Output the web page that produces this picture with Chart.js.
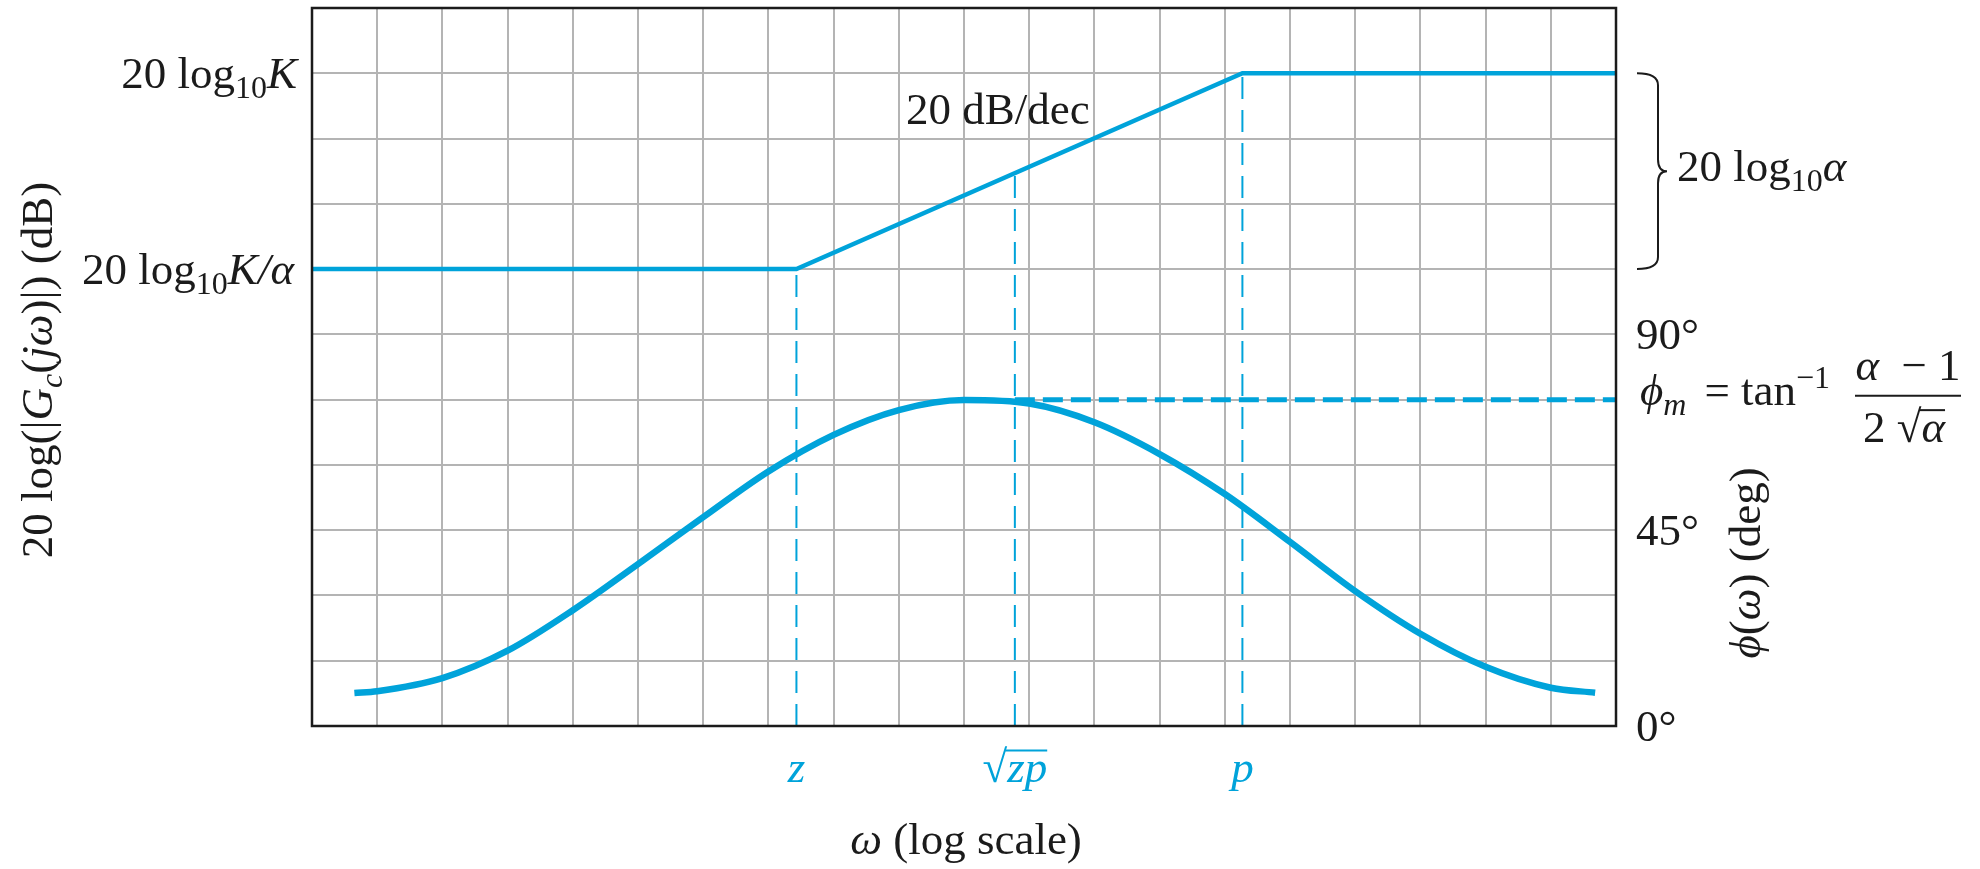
<!DOCTYPE html>
<html>
<head>
<meta charset="utf-8">
<title>Lead compensator Bode diagram</title>
<script src="https://cdn.jsdelivr.net/npm/chart.js@4.4.1/dist/chart.umd.min.js"></script>
<style>
  html, body { margin: 0; padding: 0; background: #fff; }
  #wrap { width: 1980px; height: 869px; }
</style>
</head>
<body>
<div id="wrap"><canvas id="bode" width="1980" height="869"></canvas></div>
<script>
// x axis: log frequency, one unit per grid column
const xMin = 0, xMax = 20;
// left axis in grid rows, right axis in degrees (15 deg per row)
const rowMax = 11;
const phaseMax = 165;

// z, sqrt(zp), p on the grid
const markX = [7.43, 10.78, 14.27];
const markText = ['z', '√zp', 'p'];
const markTop = [7, 8.5, 10];        // top of each dashed drop line (rows)

// asymptotic magnitude (rows): 20log K/alpha -> 20log K
const magX = [0, 7.43, 14.27, 20];
const magY = [7, 7, 10, 10];
const magTicks = [10, 7];

// phase curve (deg)
const phaseX = [0.65, 1, 2, 3, 4, 5, 6, 7, 8, 9, 10, 11, 12, 13, 14, 15, 16, 17, 18, 19, 19.68];
const phaseY = [7.6, 8.0, 11.0, 17.3, 26.6, 37.2, 48.0, 58.5, 66.9, 72.6, 74.9, 74.1, 69.8, 62.5, 53.3, 42.3, 31.0, 21.2, 13.6, 8.8, 7.65];
const phiM = 75;
const phaseTicks = [90, 45, 0];

const blue = '#00a3da';
const ink = '#1b1b1b';
const serif = '"Liberation Serif", "Times New Roman", serif';
const fs = 45;

function pts(xs, ys) {
  return xs.map((x, i) => ({ x: x, y: ys[i] }));
}

function partFont(p, size) {
  const s = (p.sub || p.sup) ? Math.round(size * 0.72) : size;
  return (p.i ? 'italic ' : '') + s + 'px ' + serif;
}

// draw a run of text pieces (italic / sub / sup)
function drawRich(ctx, x, y, parts, size, align) {
  let w = 0;
  parts.forEach(p => {
    ctx.font = partFont(p, size);
    p.w = ctx.measureText(p.t).width + (p.gap || 0);
    w += p.w;
  });
  let cx = align === 'right' ? x - w : align === 'center' ? x - w / 2 : x;
  ctx.textAlign = 'left';
  ctx.textBaseline = 'alphabetic';
  parts.forEach(p => {
    ctx.font = partFont(p, size);
    const dy = p.sub ? size * 0.22 : p.sup ? -size * 0.38 : 0;
    ctx.fillText(p.t, cx, y + dy);
    if (p.over) {
      ctx.save();
      ctx.lineWidth = 2;
      ctx.strokeStyle = ctx.fillStyle;
      ctx.beginPath();
      ctx.moveTo(cx - 2, y - size * 0.7);
      ctx.lineTo(cx + p.w, y - size * 0.7);
      ctx.stroke();
      ctx.restore();
    }
    cx += p.w;
  });
  return w;
}

function brace(ctx, x, y0, y1, w) {
  const ym = (y0 + y1) / 2, s = x + w * 0.7, r = 12;
  ctx.beginPath();
  ctx.moveTo(x, y0);
  ctx.quadraticCurveTo(s, y0, s, y0 + r);
  ctx.lineTo(s, ym - r);
  ctx.quadraticCurveTo(s, ym, x + w, ym);
  ctx.quadraticCurveTo(s, ym, s, ym + r);
  ctx.lineTo(s, y1 - r);
  ctx.quadraticCurveTo(s, y1, x, y1);
  ctx.stroke();
}

const annotations = {
  id: 'annotations',
  afterDraw(chart) {
    const ctx = chart.ctx;
    const a = chart.chartArea;
    const xs = chart.scales.x, yr = chart.scales.y, yp = chart.scales.yPhase;
    ctx.save();

    // frame
    ctx.strokeStyle = ink;
    ctx.lineWidth = 2.5;
    ctx.strokeRect(a.left, a.top, a.right - a.left, a.bottom - a.top);

    ctx.fillStyle = ink;
    // magnitude tick labels
    const py10 = yr.getPixelForValue(magTicks[0]);
    drawRich(ctx, a.left - 15, py10 + 15, [
      { t: '20 log' }, { t: '10', sub: true }, { t: 'K', i: true }
    ], fs, 'right');
    const py7 = yr.getPixelForValue(magTicks[1]);
    drawRich(ctx, a.left - 18, py7 + 15, [
      { t: '20 log' }, { t: '10', sub: true }, { t: 'K/α', i: true }
    ], fs, 'right');

    // phase tick labels
    phaseTicks.forEach(v => {
      drawRich(ctx, a.right + 20, yp.getPixelForValue(v) + 15, [{ t: v + '°' }], fs, 'left');
    });

    // left axis title
    ctx.save();
    ctx.translate(52, (a.top + a.bottom) / 2 + 3);
    ctx.rotate(-Math.PI / 2);
    drawRich(ctx, 0, 0, [
      { t: '20 log(|' }, { t: 'G', i: true }, { t: 'c', i: true, sub: true },
      { t: '(' }, { t: 'jω', i: true }, { t: ')|) (dB)' }
    ], fs, 'center');
    ctx.restore();

    // right axis title
    ctx.save();
    ctx.translate(1760, 563);
    ctx.rotate(-Math.PI / 2);
    drawRich(ctx, 0, 0, [
      { t: 'ϕ', i: true }, { t: '(' }, { t: 'ω', i: true }, { t: ') (deg)' }
    ], fs, 'center');
    ctx.restore();

    // brace and 20 log10 alpha
    ctx.lineWidth = 2;
    brace(ctx, a.right + 21, py10, py7, 30);
    drawRich(ctx, a.right + 61, (py10 + py7) / 2 + 10, [
      { t: '20 log' }, { t: '10', sub: true }, { t: 'α', i: true }
    ], fs, 'left');

    // phi_m formula
    const pm = yp.getPixelForValue(phiM);
    drawRich(ctx, a.right + 24, pm + 5, [
      { t: 'ϕ', i: true }, { t: 'm', i: true, sub: true, gap: 18 },
      { t: '= tan' }, { t: '−1', sup: true }
    ], fs, 'left');
    const fx = 1908;
    drawRich(ctx, fx, pm - 20, [
      { t: 'α', i: true }, { t: '  − 1' }
    ], fs, 'center');
    ctx.lineWidth = 2;
    ctx.beginPath();
    ctx.moveTo(fx - 53, pm - 4);
    ctx.lineTo(fx + 53, pm - 4);
    ctx.stroke();
    drawRich(ctx, fx - 4, pm + 42, [
      { t: '2 √' }, { t: 'α', i: true, over: true }
    ], fs, 'center');

    // slope label
    drawRich(ctx, 906, 124, [{ t: '20 dB/dec' }], fs, 'left');

    // frequency marks
    ctx.fillStyle = blue;
    markX.forEach((m, i) => {
      const px = xs.getPixelForValue(m);
      let parts;
      if (markText[i] === '√zp') {
        parts = [{ t: '√' }, { t: 'zp', i: true, over: true }];
      } else {
        parts = [{ t: markText[i], i: true }];
      }
      drawRich(ctx, px, a.bottom + 56, parts, fs, 'center');
    });

    // x axis title
    ctx.fillStyle = ink;
    drawRich(ctx, (a.left + a.right) / 2 + 2, a.bottom + 128, [
      { t: 'ω', i: true }, { t: ' (log scale)' }
    ], fs, 'center');

    ctx.restore();
  }
};

const dropLines = markX.map((m, i) => ({
  data: [{ x: m, y: 0 }, { x: m, y: markTop[i] }],
  yAxisID: 'y',
  borderColor: blue,
  borderWidth: 2,
  borderDash: [22, 11],
  pointRadius: 0,
  showLine: true
}));

new Chart(document.getElementById('bode').getContext('2d'), {
  type: 'scatter',
  data: {
    datasets: [
      {
        label: 'magnitude',
        data: pts(magX, magY),
        yAxisID: 'y',
        borderColor: blue,
        borderWidth: 4.5,
        pointRadius: 0,
        showLine: true
      },
      {
        label: 'phase',
        data: pts(phaseX, phaseY),
        yAxisID: 'yPhase',
        borderColor: blue,
        borderWidth: 6.5,
        pointRadius: 0,
        showLine: true,
        cubicInterpolationMode: 'monotone'
      },
      {
        label: 'phi_m',
        data: [{ x: markX[1], y: phiM }, { x: xMax, y: phiM }],
        yAxisID: 'yPhase',
        borderColor: blue,
        borderWidth: 5,
        borderDash: [20, 8],
        pointRadius: 0,
        showLine: true
      },
      ...dropLines
    ]
  },
  options: {
    responsive: false,
    devicePixelRatio: 1,
    animation: false,
    layout: { padding: { left: 312, right: 364, top: 8, bottom: 143 } },
    plugins: { legend: { display: false }, tooltip: { enabled: false } },
    scales: {
      x: {
        type: 'linear', min: xMin, max: xMax,
        ticks: { display: false, stepSize: 1 },
        grid: { color: '#b4b4b4', lineWidth: 2, drawTicks: false },
        border: { display: false },
        afterFit(s) { s.height = 0; }
      },
      y: {
        type: 'linear', position: 'left', min: 0, max: rowMax,
        ticks: { display: false, stepSize: 1 },
        grid: { color: '#b4b4b4', lineWidth: 2, drawTicks: false },
        border: { display: false },
        afterFit(s) { s.width = 0; }
      },
      yPhase: {
        type: 'linear', position: 'right', min: 0, max: phaseMax,
        ticks: { display: false, stepSize: 15 },
        grid: { display: false, drawTicks: false },
        border: { display: false },
        afterFit(s) { s.width = 0; }
      }
    }
  },
  plugins: [annotations]
});
</script>
</body>
</html>
